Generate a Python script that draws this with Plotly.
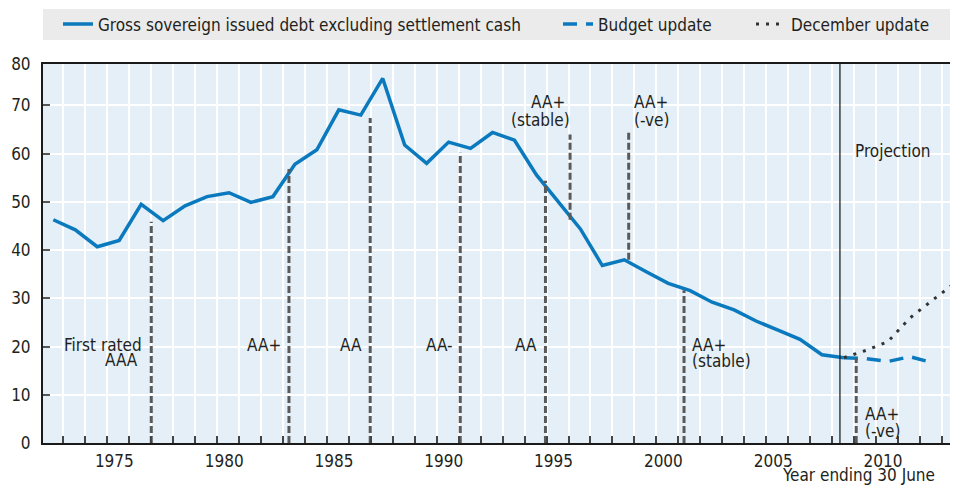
import plotly.graph_objects as go

# ---------------- data ----------------
years = list(range(1972, 2009))
debt = [46.3, 44.2, 40.7, 42.0, 49.5, 46.1, 49.2, 51.1, 51.9, 49.9,
        51.1, 57.8, 60.8, 69.1, 68.0, 75.6, 61.8, 58.0, 62.4, 61.1,
        64.4, 62.8, 55.6, 50.0, 44.4, 36.8, 38.0, 35.5, 33.1, 31.6,
        29.2, 27.6, 25.3, 23.4, 21.5, 18.3, 17.7]

budget_years = [2008, 2009, 2010, 2011, 2012]
budget = [17.7, 17.5, 16.9, 17.9, 16.7]

december_years = [2008, 2009, 2010, 2011, 2012, 2013]
december = [17.7, 19.2, 21.0, 25.9, 29.5, 33.0]

# rating changes: position (fractional year), bottom and top of the marker line
rating_x = [1976.46, 1982.73, 1986.43, 1990.53, 1994.41, 1995.53, 1998.20, 2000.72, 2008.56]
rating_bottom = [0, 0, 0, 0, 0, 46.3, 38.0, 0, 0]
rating_top = [45.9, 56.8, 67.4, 60.2, 54.4, 64.0, 64.9, 31.7, 17.6]

# rating labels: (text, x, y, xanchor)
rating_labels = [
    ("First rated", 1976.11, 20.4, "right"),
    ("AAA", 1975.93, 17.2, "right"),
    ("AA+", 1982.47, 20.3, "right"),
    ("AA", 1986.13, 20.3, "right"),
    ("AA-", 1990.30, 20.3, "right"),
    ("AA", 1994.10, 20.3, "right"),
    ("AA+", 1994.53, 70.7, "center"),
    ("(stable)", 1994.19, 67.0, "center"),
    ("AA+", 1998.33, 70.7, "left"),
    ("(-ve)", 1998.36, 67.0, "left"),
    ("AA+", 2000.99, 20.3, "left"),
    ("(stable)", 2000.99, 17.0, "left"),
    ("AA+", 2008.87, 6.0, "left"),
    ("(-ve)", 2008.87, 2.4, "left"),
]

projection_start = 2007.82
projection_label = ("Projection", 2010.24, 60.6)

y_ticks = [0, 10, 20, 30, 40, 50, 60, 70]
y_top = 78.6
x_range = [1971.53, 2013.15]
axis_years = list(range(1972, 2014))
label_every = 5

# ---------------- styling ----------------
FONT = "DejaVu Sans Condensed, DejaVu Sans, sans-serif"
FS = 17
TXT = "#231f20"
BLUE = "#0a79bd"
GREY = "#5a5a5a"

# the page body adds an 8px margin, so the figure is 8px smaller than the window
W, H = 950, 480

fig = go.Figure()

fig.add_trace(go.Scatter(
    x=years, y=debt, mode="lines",
    name="Gross sovereign issued debt excluding settlement cash",
    line=dict(color=BLUE, width=3.5), legendwidth=455))

fig.add_trace(go.Scatter(
    x=budget_years, y=budget, mode="lines", name="Budget update",
    line=dict(color=BLUE, width=3.5, dash="14px,9px"), legendwidth=148))

fig.add_trace(go.Scatter(
    x=december_years, y=december, mode="lines", name="December update",
    line=dict(color="#333333", width=3, dash="3px,7px")))

rx, ry = [], []
for x, b, t in zip(rating_x, rating_bottom, rating_top):
    rx += [x, x, None]
    ry += [b, t, None]
fig.add_trace(go.Scatter(
    x=rx, y=ry, mode="lines", showlegend=False, hoverinfo="skip",
    line=dict(color=GREY, width=3, dash="7px,3px")))

# projection separator
fig.add_shape(type="line", xref="x", yref="paper", x0=projection_start, x1=projection_start,
              y0=0, y1=1, line=dict(color="#111111", width=1.2), layer="above")

# legend background
fig.add_shape(type="rect", xref="paper", yref="paper", x0=0, x1=1, y0=1.0633, y1=1.1451,
              fillcolor="#ebebeb", line=dict(width=0), layer="below")

for text, x, y, xa in rating_labels:
    fig.add_annotation(x=x, y=y, xref="x", yref="y", text=text, showarrow=False,
                       xanchor=xa, yanchor="middle", font=dict(family=FONT, size=FS, color=TXT))

fig.add_annotation(x=projection_label[1], y=projection_label[2], text=projection_label[0],
                   showarrow=False, xanchor="center", yanchor="middle",
                   font=dict(family=FONT, size=FS, color=TXT))

fig.add_annotation(x=0.978, y=-0.084, xref="paper", yref="paper", text="Year ending 30 June",
                   showarrow=False, xanchor="right", yanchor="middle",
                   font=dict(family=FONT, size=FS, color=TXT))

# x ticks at year boundaries (gridlines), labels every 5 years
x_tickvals = [y - 0.54 for y in axis_years]
x_ticktext = [str(y) if y % label_every == 0 else "" for y in axis_years]

fig.update_layout(
    width=W, height=H,
    margin=dict(l=35, r=1, t=56, b=45, autoexpand=False),
    paper_bgcolor="white",
    plot_bgcolor="#e4eff7",
    font=dict(family=FONT, size=FS, color=TXT),
    showlegend=True,
    legend=dict(orientation="h", xref="container", yref="container",
                x=50 / W, y=1 - 16.5 / H, xanchor="left", yanchor="middle",
                bgcolor="rgba(0,0,0,0)", font=dict(family=FONT, size=FS, color=TXT),
                itemwidth=30, tracegroupgap=0),
    xaxis=dict(range=x_range, tickmode="array", tickvals=x_tickvals, ticktext=x_ticktext,
               ticks="inside", ticklen=7, tickwidth=1.5, tickcolor="#444444",
               ticklabelshift=7, ticklabelstandoff=2, automargin=False,
               showgrid=True, gridcolor="white", gridwidth=1.5,
               showline=True, linecolor="#1a1a1a", linewidth=2, mirror=True,
               zeroline=False, tickfont=dict(family=FONT, size=FS, color=TXT)),
    yaxis=dict(range=[0, y_top], tickmode="array",
               tickvals=y_ticks + [y_top], ticktext=[str(v) for v in y_ticks] + ["80"],
               ticks="inside", ticklen=7, tickwidth=1.5, tickcolor="#555555",
               ticklabelstandoff=7, automargin=False,
               showgrid=True, gridcolor="white", gridwidth=1.5,
               showline=True, linecolor="#1a1a1a", linewidth=2, mirror=True,
               zeroline=False, tickfont=dict(family=FONT, size=FS, color=TXT)),
)

fig.write_html("out.html")
